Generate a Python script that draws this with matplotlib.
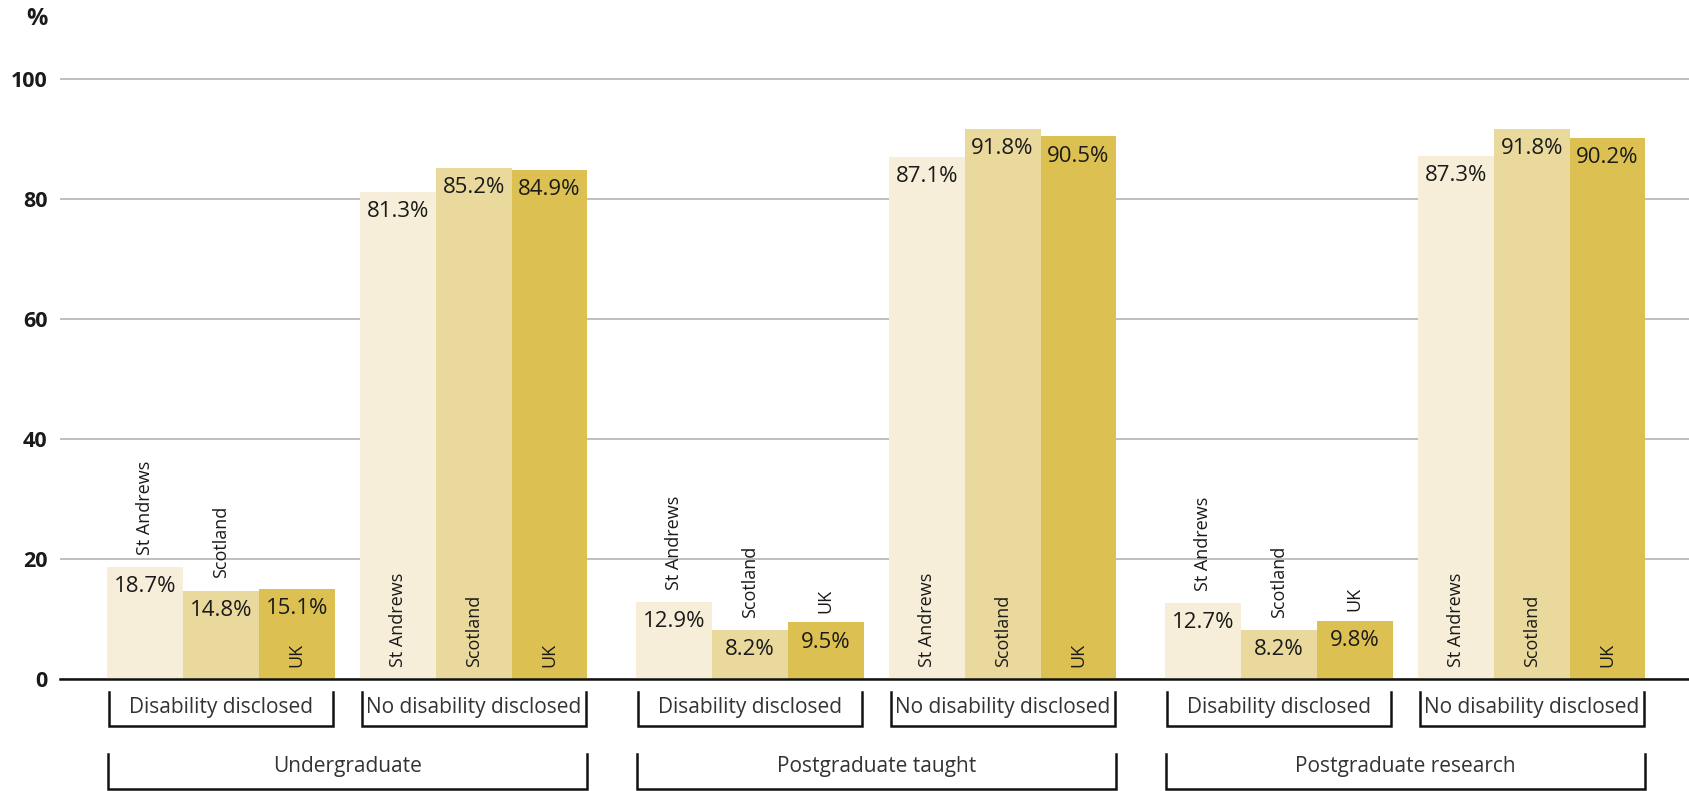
import matplotlib
matplotlib.use("Agg")
import matplotlib.pyplot as plt

plt.rcParams['font.family'] = ['Open Sans', 'DejaVu Sans']

# ---- data ----
levels = ['Undergraduate', 'Postgraduate taught', 'Postgraduate research']
groups = ['Disability disclosed', 'No disability disclosed']
regions = ['St Andrews', 'Scotland', 'UK']

# St Andrews, Scotland, UK for each level / group
ug_dis = [18.7, 14.8, 15.1]
ug_nodis = [81.3, 85.2, 84.9]
pgt_dis = [12.9, 8.2, 9.5]
pgt_nodis = [87.1, 91.8, 90.5]
pgr_dis = [12.7, 8.2, 9.8]
pgr_nodis = [87.3, 91.8, 90.2]
values = [[ug_dis, ug_nodis], [pgt_dis, pgt_nodis], [pgr_dis, pgr_nodis]]

colors = ['#F6EED8', '#EAD99C', '#DCC152']
ink = '#1a1a1a'

W, H = 1689, 791
fig = plt.figure(figsize=(W / 100, H / 100), dpi=100)

# pixel geometry of the plotting area
x_px0, base_px, unit_px = 60, 679.3, 6.0
ymax = 102
top_px = base_px - ymax * unit_px
ax = fig.add_axes([x_px0 / W, (H - base_px) / H, 1 - x_px0 / W, (base_px - top_px) / H])

bar_w = 75.9  # px per bar (x data unit)
in_gap, sec_gap = 0.33, 0.64
sec_pitch = 2 * 3 + in_gap + sec_gap


def label_inside(v, j):
    # region names sit at the bottom of tall bars, above the short ones
    # (the UG UK bar is just tall enough to hold its name)
    return v > 50 or (j == 2 and v >= 15)


for s, lev in enumerate(levels):
    sec_start = s * sec_pitch
    for g, grp in enumerate(groups):
        c_start = sec_start + g * (3 + in_gap)
        vals = values[s][g]
        for j, v in enumerate(vals):
            xc = c_start + j + 0.5
            ax.bar(xc, v, width=1.0, color=colors[j], zorder=2)
            ax.text(xc, v - 1.55, f'{v}%', ha='center', va='top',
                    fontsize=16, color=ink, zorder=3)
            if label_inside(v, j):
                ax.text(xc, 2.0, regions[j], rotation=90, ha='center',
                        va='bottom', fontsize=13, color=ink, zorder=3)
            else:
                off = 1.6 if j == 2 else 2.0
                ax.text(xc, v + off, regions[j], rotation=90, ha='center',
                        va='bottom', fontsize=13, color=ink, zorder=3)
        # group bracket
        x0, x1 = c_start + 0.03, c_start + 3 - 0.02
        ax.plot([x0, x0, x1, x1], [-2.1, -7.7, -7.7, -2.1], color='#111111',
                lw=1.8, clip_on=False, solid_joinstyle='miter')
        ax.text((x0 + x1) / 2, -5.7, grp, ha='center', va='baseline',
                fontsize=15, color='#333333')
    # level bracket
    x0, x1 = sec_start + 0.01, sec_start + 2 * 3 + in_gap - 0.01
    ax.plot([x0, x0, x1, x1], [-12.4, -18.2, -18.2, -12.4], color='#111111',
            lw=1.8, clip_on=False, solid_joinstyle='miter')
    ax.text((x0 + x1) / 2, -15.5, lev, ha='center', va='baseline',
            fontsize=15, color='#333333')

ax.set_xlim(-(107 - x_px0) / bar_w, (W - 107) / bar_w)
ax.set_ylim(0, ymax)
ax.set_yticks([0, 20, 40, 60, 80, 100])
ax.tick_params(axis='y', length=0, pad=9, labelsize=15.5)
for lbl in ax.get_yticklabels():
    lbl.set_fontweight('bold')
    lbl.set_color(ink)
ax.set_xticks([])
ax.yaxis.grid(True, color='#b4b4b4', lw=1.2, zorder=0)
ax.set_axisbelow(True)
for sp in ['top', 'right', 'left']:
    ax.spines[sp].set_visible(False)
ax.spines['bottom'].set_color('#111111')
ax.spines['bottom'].set_linewidth(1.8)
ax.spines['bottom'].set_zorder(4)

fig.text(37 / W, 1 - 19 / H, '%', ha='center', va='center', fontsize=17,
         fontweight='bold', color=ink)

fig.savefig('out.png', dpi=100)
